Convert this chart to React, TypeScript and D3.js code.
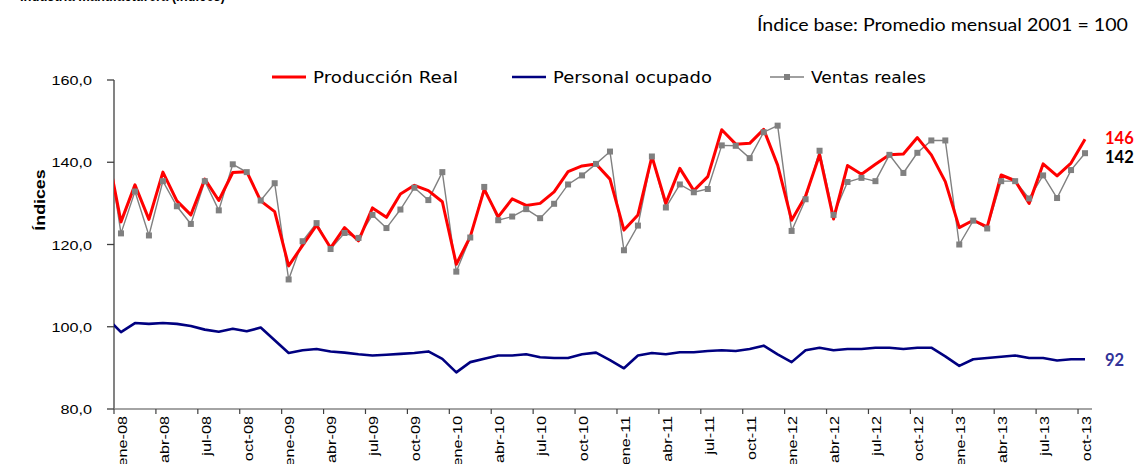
import React, { useEffect, useRef } from 'react';
import * as d3 from 'd3';

// meses: dic-07 (recortado por el eje) hasta oct-13
const months = [
  'dic-07',
  'ene-08', 'feb-08', 'mar-08', 'abr-08', 'may-08', 'jun-08', 'jul-08', 'ago-08', 'sep-08', 'oct-08', 'nov-08', 'dic-08',
  'ene-09', 'feb-09', 'mar-09', 'abr-09', 'may-09', 'jun-09', 'jul-09', 'ago-09', 'sep-09', 'oct-09', 'nov-09', 'dic-09',
  'ene-10', 'feb-10', 'mar-10', 'abr-10', 'may-10', 'jun-10', 'jul-10', 'ago-10', 'sep-10', 'oct-10', 'nov-10', 'dic-10',
  'ene-11', 'feb-11', 'mar-11', 'abr-11', 'may-11', 'jun-11', 'jul-11', 'ago-11', 'sep-11', 'oct-11', 'nov-11', 'dic-11',
  'ene-12', 'feb-12', 'mar-12', 'abr-12', 'may-12', 'jun-12', 'jul-12', 'ago-12', 'sep-12', 'oct-12', 'nov-12', 'dic-12',
  'ene-13', 'feb-13', 'mar-13', 'abr-13', 'may-13', 'jun-13', 'jul-13', 'ago-13', 'sep-13', 'oct-13',
];

const produccion = [
  143,
  125.5, 134.5, 126.1, 137.6, 130.6, 127.2, 135.9, 130.7, 137.5, 137.7, 130.6, 128.0,
  114.8, 119.8, 124.7, 119.2, 124.1, 120.9, 128.9, 126.6, 132.3, 134.4, 133.1, 130.4,
  115.2, 121.9, 133.4, 126.7, 131.1, 129.5, 130.0, 132.8, 137.7, 139.1, 139.6, 135.9,
  123.5, 127.2, 141.4, 130.0, 138.5, 133.1, 136.5, 147.9, 144.4, 144.6, 148.0, 139.3,
  125.9, 131.8, 141.8, 126.2, 139.2, 137.1, 139.5, 141.8, 142.0, 146.0, 141.8, 135.3,
  124.1, 125.9, 124.3, 136.9, 135.5, 130.0, 139.6, 136.7, 139.8, 145.6,
];

const personal = [
  102.1,
  98.7, 100.9, 100.7, 100.9, 100.7, 100.2, 99.3, 98.8, 99.5, 98.9, 99.8, 96.7,
  93.6, 94.3, 94.6, 94.0, 93.7, 93.3, 93.0, 93.2, 93.4, 93.6, 94.0, 92.2,
  88.9, 91.4, 92.2, 93.0, 93.0, 93.3, 92.6, 92.4, 92.4, 93.3, 93.7, 91.9,
  89.9, 93.0, 93.6, 93.3, 93.8, 93.8, 94.1, 94.3, 94.1, 94.6, 95.4, 93.3,
  91.4, 94.3, 94.9, 94.3, 94.6, 94.6, 94.9, 94.9, 94.6, 94.9, 94.9, 92.8,
  90.5, 92.1, 92.4, 92.7, 93.0, 92.4, 92.4, 91.8, 92.1, 92.1,
];

const ventas = [
  145,
  122.7, 132.9, 122.2, 135.4, 129.3, 125.0, 135.4, 128.3, 139.5, 137.6, 130.7, 134.9,
  111.5, 120.8, 125.2, 118.9, 122.8, 121.6, 127.2, 124.0, 128.5, 133.8, 130.8, 137.6,
  113.4, 121.7, 134.0, 125.9, 126.8, 128.6, 126.4, 129.9, 134.6, 136.8, 139.6, 142.6,
  118.6, 124.6, 141.4, 129.0, 134.6, 132.7, 133.5, 144.1, 144.0, 141.0, 147.3, 148.9,
  123.3, 131.0, 142.8, 127.2, 135.2, 136.2, 135.4, 141.8, 137.4, 142.3, 145.3, 145.3,
  120.0, 125.8, 123.9, 135.4, 135.4, 131.2, 136.8, 131.3, 138.1, 142.2,
];

const tickLabels = [
  'ene-08', 'abr-08', 'jul-08', 'oct-08', 'ene-09', 'abr-09', 'jul-09', 'oct-09',
  'ene-10', 'abr-10', 'jul-10', 'oct-10', 'ene-11', 'abr-11', 'jul-11', 'oct-11',
  'ene-12', 'abr-12', 'jul-12', 'oct-12', 'ene-13', 'abr-13', 'jul-13', 'oct-13',
];
const yTicks = [80, 100, 120, 140, 160];

const seriesNames = ['Producción Real', 'Personal ocupado', 'Ventas reales'];
const endLabels = ['146', '92', '142'];

function App() {
  const ref = useRef<SVGSVGElement>(null);

  useEffect(() => {
    const svg = d3.select(ref.current);
    svg.selectAll('*').remove();

    // índice 0 = ene-08; dic-07 queda en -1
    const x = d3.scaleLinear().domain([-0.5, 69.5]).range([114, 1092]);
    const y = d3.scaleLinear().domain([80, 160]).range([409, 80]);
    const idx = (m: string) => months.indexOf(m) - 1;

    svg.append('defs').append('clipPath').attr('id', 'plot')
      .append('rect').attr('x', 114).attr('y', 0).attr('width', 978).attr('height', 464);

    // eje Y
    svg.append('line').attr('x1', 114).attr('x2', 114).attr('y1', y(160)).attr('y2', y(80))
      .attr('stroke', '#404040').attr('stroke-width', 1.3);
    svg.selectAll('.ytick').data(yTicks).enter().append('line')
      .attr('x1', 107).attr('x2', 114).attr('y1', d => y(d)).attr('y2', d => y(d))
      .attr('stroke', '#404040').attr('stroke-width', 1.3);
    svg.selectAll('.ylab').data(yTicks).enter().append('text')
      .attr('transform', d => `translate(92,${y(d) + 5}) scale(1.2,1)`)
      .attr('text-anchor', 'end')
      .attr('font-family', 'Liberation Sans, Arial, sans-serif')
      .attr('font-size', 13.5)
      .attr('fill', '#000')
      .text(d => d3.format('.1f')(d).replace('.', ','));

    svg.append('text')
      .attr('transform', `translate(45,200) rotate(-90) scale(1.15,1)`)
      .attr('text-anchor', 'middle')
      .attr('font-family', 'Liberation Sans, Arial, sans-serif')
      .attr('font-weight', 'bold')
      .attr('font-size', 15.5)
      .text('Índices');

    // eje X
    svg.append('line').attr('x1', 114).attr('x2', 1092).attr('y1', y(80)).attr('y2', y(80))
      .attr('stroke', '#868686').attr('stroke-width', 1.5);
    svg.selectAll('.xtick').data(tickLabels).enter().append('line')
      .attr('x1', d => x(idx(d) - 0.5)).attr('x2', d => x(idx(d) - 0.5))
      .attr('y1', y(80)).attr('y2', y(80) + 5)
      .attr('stroke', '#404040').attr('stroke-width', 1.2);
    svg.selectAll('.xlab').data(tickLabels).enter().append('text')
      .attr('transform', d => `translate(${x(idx(d)) + 1.5},416) rotate(-90) scale(1.3,1)`)
      .attr('text-anchor', 'end')
      .attr('dominant-baseline', 'central')
      .attr('font-family', 'Liberation Sans, Arial, sans-serif')
      .attr('font-size', 12.5)
      .text(d => d);

    // series
    const plot = svg.append('g').attr('clip-path', 'url(#plot)');
    const line = d3.line<number>().x((_, i) => x(i - 1)).y(d => y(d));

    plot.append('path').datum(personal).attr('d', line)
      .attr('fill', 'none').attr('stroke', '#000080').attr('stroke-width', 2.6).attr('stroke-linejoin', 'round');
    plot.append('path').datum(ventas).attr('d', line)
      .attr('fill', 'none').attr('stroke', '#808080').attr('stroke-width', 1.4);
    plot.append('path').datum(produccion).attr('d', line)
      .attr('fill', 'none').attr('stroke', '#ff0000').attr('stroke-width', 3).attr('stroke-linejoin', 'round');
    plot.selectAll('.mk').data(ventas).enter().append('rect')
      .attr('x', (_, i) => x(i - 1) - 3).attr('y', d => y(d) - 3)
      .attr('width', 6).attr('height', 6).attr('fill', '#808080');

    // leyenda
    const legend = [
      { x0: 272, color: '#ff0000', w: 3, text: seriesNames[0], len: 145, marker: false },
      { x0: 512, color: '#000080', w: 2.6, text: seriesNames[1], len: 159, marker: false },
      { x0: 770, color: '#808080', w: 1.4, text: seriesNames[2], len: 115, marker: true },
    ];
    legend.forEach(l => {
      svg.append('line').attr('x1', l.x0).attr('x2', l.x0 + 34).attr('y1', 77).attr('y2', 77)
        .attr('stroke', l.color).attr('stroke-width', l.w);
      if (l.marker) {
        svg.append('rect').attr('x', l.x0 + 14).attr('y', 74).attr('width', 6).attr('height', 6).attr('fill', l.color);
      }
      svg.append('text').attr('x', l.x0 + 41).attr('y', 82.5)
        .attr('font-family', 'DejaVu Sans, Verdana, sans-serif')
        .attr('font-size', 15)
        .attr('textLength', l.len).attr('lengthAdjust', 'spacingAndGlyphs')
        .text(l.text);
    });

    // etiquetas finales
    const last = months.length - 1;
    const ends = [
      { v: produccion[last], color: '#ff0000', t: endLabels[0], dy: 5 },
      { v: ventas[last], color: '#000000', t: endLabels[2], dy: 10 },
      { v: personal[last], color: '#333399', t: endLabels[1], dy: 7 },
    ];
    ends.forEach(e => {
      svg.append('text').attr('x', 1105).attr('y', y(e.v) + e.dy)
        .attr('font-family', 'Lato, sans-serif').attr('font-weight', 'bold').attr('font-size', 16.5)
        .attr('fill', e.color).text(e.t);
    });

    // subtítulo
    svg.append('text').attr('x', 757).attr('y', 31)
      .attr('font-family', 'Lato, Open Sans, sans-serif').attr('font-size', 17)
      .attr('textLength', 371).attr('lengthAdjust', 'spacingAndGlyphs')
      .text('Índice base: Promedio mensual 2001 = 100');

    // título recortado arriba
    svg.append('text').attr('x', 20).attr('y', 0.5)
      .attr('font-family', 'Liberation Sans, Arial, sans-serif').attr('font-weight', 'bold').attr('font-size', 17)
      .attr('textLength', 205).attr('lengthAdjust', 'spacingAndGlyphs')
      .text('Industria manufacturera (Índices)');
  }, []);

  return (
    <div style={{ position: 'absolute', left: 0, top: 0 }}>
      <svg ref={ref} width={1137} height={464} style={{ display: 'block', background: '#fff' }} />
    </div>
  );
}

export default App;
